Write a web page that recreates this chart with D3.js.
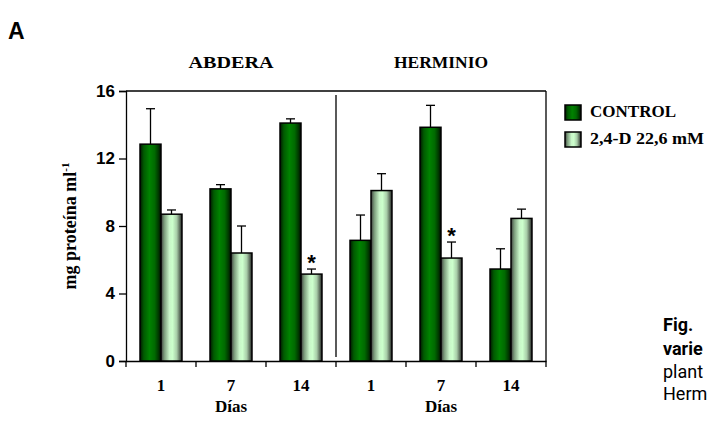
<!DOCTYPE html>
<html>
<head>
<meta charset="utf-8">
<script src="https://cdn.jsdelivr.net/npm/d3@7"></script>
<style>
  html, body { margin: 0; padding: 0; background: #fff; }
  svg { display: block; }
</style>
</head>
<body>
<svg id="chart" width="709" height="422"></svg>
<script>
// Soluble protein content (mg ml-1) by variety and day
const varieties = ["ABDERA", "HERMINIO"];
const days = ["1", "7", "14"];
const seriesNames = ["CONTROL", "2,4-D 22,6 mM"];
const controlMeans = [12.85, 10.2, 14.1, 7.15, 13.85, 5.45];
const controlErr   = [2.1, 0.25, 0.25, 1.5, 1.3, 1.2];
const treatMeans   = [8.7, 6.4, 5.15, 10.1, 6.1, 8.45];
const treatErr     = [0.25, 1.6, 0.3, 1.0, 0.95, 0.55];
const treatSignif  = [false, false, true, false, true, false];
const yTicks = [0, 4, 8, 12, 16];

const svg = d3.select("#chart");
const plotLeft = 126, plotRight = 546, plotTop = 91, plotBottom = 361;

const groups = [];
varieties.forEach(v => days.forEach(d => groups.push(v + "-" + d)));

const x0 = d3.scaleBand().domain(groups).range([plotLeft, plotRight]).padding(0);
const x1 = d3.scaleBand().domain(["c", "t"]).range([0, x0.bandwidth()])
  .paddingInner(0).paddingOuter(0.667);
const y = d3.scaleLinear().domain([0, 16]).range([plotBottom, plotTop]);

// gradients
const defs = svg.append("defs");
function grad(id, stops) {
  const g = defs.append("linearGradient").attr("id", id)
    .attr("x1", "0%").attr("x2", "100%").attr("y1", "0%").attr("y2", "0%");
  stops.forEach(s => g.append("stop").attr("offset", s[0]).attr("stop-color", s[1]));
}
grad("gCtrl", [["0%", "#001800"], ["18%", "#005a00"], ["45%", "#008200"], ["70%", "#006a00"], ["88%", "#003800"], ["100%", "#000a00"]]);
grad("gTreat", [["0%", "#3a3a3a"], ["15%", "#7a9a7a"], ["40%", "#c8f5c8"], ["55%", "#ccffcc"], ["75%", "#a8cca8"], ["90%", "#5a6a5a"], ["100%", "#202020"]]);

// panel "A"
svg.append("text").attr("x", 8).attr("y", 39)
  .attr("font-family", "Liberation Sans, Arial, sans-serif").attr("font-weight", "bold")
  .attr("font-size", 23).text("A");

// variety titles
varieties.forEach((v, i) => {
  const gs = groups.slice(i * 3, i * 3 + 3);
  const cx = (x0(gs[0]) + x0(gs[2]) + x0.bandwidth()) / 2;
  svg.append("text").attr("x", cx).attr("y", 68).attr("text-anchor", "middle")
    .attr("font-family", "Liberation Serif, serif").attr("font-weight", "bold")
    .attr("font-size", 16)
    .attr("textLength", i === 0 ? 85 : 94).attr("lengthAdjust", "spacingAndGlyphs")
    .text(v);
});

// frame: top and right lines
svg.append("line").attr("x1", plotLeft).attr("x2", plotRight).attr("y1", plotTop).attr("y2", plotTop)
  .attr("stroke", "#000").attr("stroke-width", 1.3);
svg.append("line").attr("x1", plotRight).attr("x2", plotRight).attr("y1", plotTop).attr("y2", plotBottom)
  .attr("stroke", "#000").attr("stroke-width", 1.3);
// divider between varieties
const divX = x0(groups[3]);
svg.append("line").attr("x1", divX).attr("x2", divX).attr("y1", plotTop + 4).attr("y2", plotBottom - 4)
  .attr("stroke", "#000").attr("stroke-width", 1.3);

// y axis
const yAxis = svg.append("g").attr("transform", `translate(${plotLeft},0)`)
  .call(d3.axisLeft(y).tickValues(yTicks).tickSize(7).tickPadding(4).tickFormat(d3.format("d")));
yAxis.select(".domain").attr("stroke-width", 1.3);
yAxis.selectAll(".tick line").attr("stroke-width", 1.3);
yAxis.selectAll("text").attr("font-family", "Liberation Sans, Arial, sans-serif")
  .attr("font-weight", "bold").attr("font-size", 17).attr("fill", "#000");

// x axis
const xAxis = svg.append("g").attr("transform", `translate(0,${plotBottom})`)
  .call(d3.axisBottom(x0).tickSize(0).tickFormat(() => ""));
xAxis.select(".domain").attr("stroke-width", 1.3);
const tickPos = groups.map(g => x0(g)).concat([plotRight]);
xAxis.selectAll(".bnd").data(tickPos).join("line").attr("class", "bnd")
  .attr("x1", d => d).attr("x2", d => d).attr("y1", 0).attr("y2", 6)
  .attr("stroke", "#000").attr("stroke-width", 1.3);

// day labels
groups.forEach((g, i) => {
  svg.append("text").attr("x", x0(g) + x0.bandwidth() / 2).attr("y", 391)
    .attr("text-anchor", "middle").attr("font-family", "Liberation Serif, serif")
    .attr("font-weight", "bold").attr("font-size", 17).text(days[i % 3]);
});
varieties.forEach((v, i) => {
  const g = groups[i * 3 + 1];
  svg.append("text").attr("x", x0(g) + x0.bandwidth() / 2).attr("y", 412)
    .attr("text-anchor", "middle").attr("font-family", "Liberation Serif, serif")
    .attr("font-weight", "bold").attr("font-size", 17).text("Días");
});

// y axis title
const yt = svg.append("text").attr("transform", `translate(76,${(plotTop + plotBottom) / 2}) rotate(-90)`)
  .attr("text-anchor", "middle").attr("font-family", "Liberation Serif, serif")
  .attr("font-weight", "bold").attr("font-size", 18);
yt.append("tspan").text("mg proteína ml");
yt.append("tspan").attr("dy", -7).attr("font-size", 11).text("-1");

// bars
const rows = groups.map((g, i) => ({ g, i }));
function drawSeries(key, means, errs, fill) {
  const sel = svg.append("g");
  rows.forEach(r => {
    const bx = x0(r.g) + x1(key), bw = x1.bandwidth();
    const v = means[r.i], e = errs[r.i];
    // error bar (upper only)
    sel.append("line").attr("x1", bx + bw / 2).attr("x2", bx + bw / 2)
      .attr("y1", y(v)).attr("y2", y(v + e)).attr("stroke", "#000").attr("stroke-width", 1.3);
    sel.append("line").attr("x1", bx + bw / 2 - 4.5).attr("x2", bx + bw / 2 + 4.5)
      .attr("y1", y(v + e)).attr("y2", y(v + e)).attr("stroke", "#000").attr("stroke-width", 1.3);
    sel.append("rect").attr("x", bx).attr("y", y(v)).attr("width", bw)
      .attr("height", y(0) - y(v)).attr("fill", fill)
      .attr("stroke", "#000").attr("stroke-width", 1.5);
  });
}
drawSeries("c", controlMeans, controlErr, "url(#gCtrl)");
drawSeries("t", treatMeans, treatErr, "url(#gTreat)");

// significance marks
rows.forEach(r => {
  if (!treatSignif[r.i]) return;
  const bx = x0(r.g) + x1("t") + x1.bandwidth() / 2;
  svg.append("text").attr("x", bx).attr("y", y(treatMeans[r.i] + treatErr[r.i]) + 1)
    .attr("text-anchor", "middle").attr("font-family", "Liberation Sans, Arial, sans-serif")
    .attr("font-weight", "bold").attr("font-size", 22).text("*");
});

// legend
const legend = svg.append("g");
seriesNames.forEach((n, i) => {
  const ly = 105 + i * 27;
  legend.append("rect").attr("x", 565).attr("y", ly).attr("width", 16).attr("height", 15)
    .attr("fill", i === 0 ? "url(#gCtrl)" : "url(#gTreat)").attr("stroke", "#000").attr("stroke-width", 1.5);
  legend.append("text").attr("x", 590).attr("y", ly + 12)
    .attr("font-family", "Liberation Serif, serif").attr("font-weight", "bold")
    .attr("font-size", 16)
    .attr("textLength", i === 0 ? 86 : 114).attr("lengthAdjust", "spacingAndGlyphs")
    .text(n);
});

// caption fragment at right edge
const cap = [["Fig.", true, 331], ["varie", true, 355], ["plant", false, 378], ["Herm", false, 400]];
cap.forEach(c => {
  svg.append("text").attr("x", 663).attr("y", c[2])
    .attr("font-family", "Roboto, Liberation Sans, sans-serif")
    .attr("font-weight", c[1] ? "bold" : "normal").attr("font-size", 18).text(c[0]);
});
</script>
</body>
</html>
